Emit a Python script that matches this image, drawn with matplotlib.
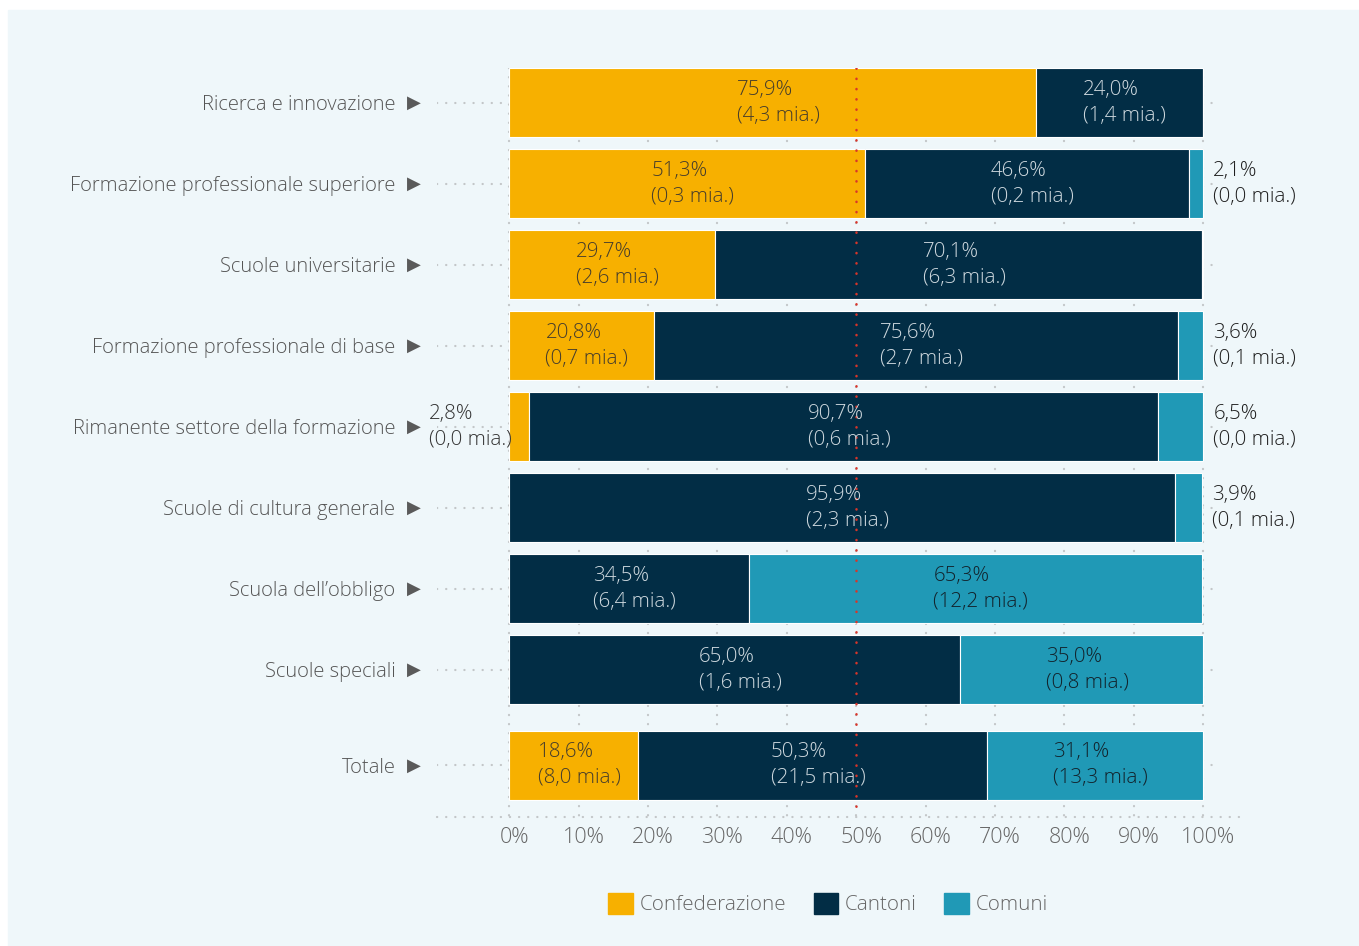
import matplotlib
matplotlib.use("Agg")
import matplotlib.pyplot as plt
import matplotlib.transforms as mtransforms
from matplotlib.patches import Rectangle, Patch

# Shares of public education spending by level of government
categories = [
    "Ricerca e innovazione",
    "Formazione professionale superiore",
    "Scuole universitarie",
    "Formazione professionale di base",
    "Rimanente settore della formazione",
    "Scuole di cultura generale",
    "Scuola dell\u2019obbligo",
    "Scuole speciali",
    "Totale",
]
conf = [75.9, 51.3, 29.7, 20.8, 2.8, 0.0, 0.0, 0.0, 18.6]
cant = [24.0, 46.6, 70.1, 75.6, 90.7, 95.9, 34.5, 65.0, 50.3]
comu = [0.1, 2.1, 0.2, 3.6, 6.5, 3.9, 65.3, 35.0, 31.1]
# amounts in billions (mia.), None = no label shown
conf_mia = ["4,3", "0,3", "2,6", "0,7", "0,0", None, None, None, "8,0"]
cant_mia = ["1,4", "0,2", "6,3", "2,7", "0,6", "2,3", "6,4", "1,6", "21,5"]
comu_mia = [None, "0,0", None, "0,1", "0,0", "0,1", "12,2", "0,8", "13,3"]
series_names = ["Confederazione", "Cantoni", "Comuni"]
xticks = list(range(0, 101, 10))

YELLOW = "#F7B000"
NAVY = "#022D45"
TEAL = "#2099B6"
BG = "#EFF7FA"
GRID = "#C3C6C8"
FONT = ["Open Sans", "DejaVu Sans"]
FS = 14.5
VFS = 14.8

plt.rcParams["font.family"] = FONT
plt.rcParams["font.weight"] = "light"

fig = plt.figure(figsize=(13.59, 9.46), dpi=100)
fig.patches.append(Rectangle((8 / 1359, 0), 1 - 8 / 1359, 1 - 10 / 946,
                             transform=fig.transFigure, color=BG, zorder=-10))

ax = fig.add_axes([437 / 1359, 129 / 946, 803 / 1359, 749 / 946])
ax.set_facecolor("none")
for s in ax.spines.values():
    s.set_visible(False)

# row positions: the total row sits a bit further down
ypos = [float(i) for i in range(len(categories) - 1)] + [len(categories) - 1 + 0.185]
bar_h = 0.852
ybottom = 8.821
ytop = -bar_h / 2
ax.set_xlim(-10.4, 105.3)
ax.set_ylim(ybottom, ytop)

dot = dict(linestyle=(0, (0.1, 4)), capstyle="round", linewidth=1.6)

# dotted grid
ax.vlines(xticks, ytop, ybottom, color=GRID, zorder=1, **dot)
ax.hlines(ypos, -10.4, 101.7, color=GRID, zorder=1, **dot)
ax.hlines(ybottom, -10.4, 105.3, color=GRID, zorder=1, clip_on=False, **dot)

left = [0.0] * len(conf)
mid = [a + b for a, b in zip(conf, cant)]
ax.barh(ypos, conf, left=left, height=bar_h, color=YELLOW, edgecolor="white", linewidth=0.8, zorder=2)
ax.barh(ypos, cant, left=conf, height=bar_h, color=NAVY, edgecolor="white", linewidth=0.8, zorder=2)
ax.barh(ypos, comu, left=mid, height=bar_h, color=TEAL, edgecolor="white", linewidth=0.8, zorder=2)

# red 50% marker
ax.vlines(50, ytop, ybottom - 0.06, color="#D8352A", zorder=4,
          linestyle=(0, (0.1, 4)), capstyle="round", linewidth=1.8)


def lab(v, m):
    return f"{v:.1f}%".replace(".", ",") + f"\n({m} mia.)"


def put(y, start, width, v, m, txtcol, side):
    if m is None:
        return
    kw = dict(va="center", fontsize=VFS, linespacing=1.4, zorder=5)
    if width >= 12:
        ax.text(start + width / 2 + 0.8, y, lab(v, m), ha="center",
                multialignment="left", color=txtcol, **kw)
    elif side == "left":
        ax.text(start - 11.5, y, lab(v, m), ha="left", color="#333333", **kw)
    else:
        ax.text(start + width + 1.45, y, lab(v, m), ha="left", color="#1e1e1e", **kw)


for i, y in enumerate(ypos):
    put(y, 0, conf[i], conf[i], conf_mia[i], "#463d2c", "left")
    put(y, conf[i], cant[i], cant[i], cant_mia[i], "#CFD9DF", "mid")
    put(y, mid[i], comu[i], comu[i], comu_mia[i], "#12222B", "right")

# category labels with arrows
ax.set_yticks(ypos)
ax.set_yticklabels(categories, fontsize=FS, color="#555555")
ax.tick_params(axis="y", length=0, pad=30)
trans = mtransforms.blended_transform_factory(ax.transAxes, ax.transData)
for y in ypos:
    ax.text(-23 / 803, y, "\u25B6", transform=trans, ha="center", va="center",
            family="DejaVu Sans", fontweight="normal", fontsize=13, color="#5A5A5A")

ax.set_xticks(xticks)
ax.set_xticklabels([f"{t}%" for t in xticks], fontsize=15.5, color="#666666")
ax.tick_params(axis="x", length=0, pad=7)
shift = mtransforms.ScaledTranslation(5 / 100, 0, fig.dpi_scale_trans)
for t in ax.get_xticklabels():
    t.set_transform(t.get_transform() + shift)

handles = [Patch(color=c) for c in (YELLOW, NAVY, TEAL)]
fig.legend(handles, series_names, loc="center", bbox_to_anchor=(828 / 1359, 1 - 904 / 946),
           ncol=3, frameon=False, fontsize=FS + 0.3, labelcolor="#666666",
           handlelength=1.2, handleheight=1.2, handletextpad=0.32, columnspacing=1.35)

fig.savefig("out.png", dpi=100)
